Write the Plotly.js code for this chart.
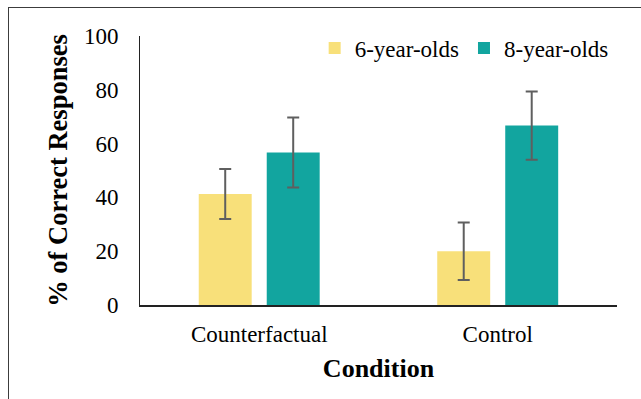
<!DOCTYPE html>
<html>
<head>
<meta charset="utf-8">
<script src="https://cdn.plot.ly/plotly-3.0.1.min.js"></script>
<style>
html,body{margin:0;padding:0;background:#fff;overflow:hidden;}
#chart{width:641px;height:399px;position:absolute;left:0;top:0;}
#frame{position:absolute;left:8px;top:7px;width:700px;height:500px;border:1px solid #3c3c3c;pointer-events:none;box-sizing:border-box;}
</style>
</head>
<body>
<div id="chart"></div>
<div id="frame"></div>
<script>
const categories = ["Counterfactual", "Control"];
const seriesNames = ["6-year-olds", "8-year-olds"];
const values6 = [41.3, 20.0];
const errors6 = [9.3, 10.7];
const values8 = [56.7, 66.7];
const errors8 = [13.0, 12.7];
const yTicks = [0, 20, 40, 60, 80, 100];

const font = "Times New Roman, Liberation Serif, DejaVu Serif, serif";
const errStyle = {type: "data", visible: true, color: "#5f5f5f", thickness: 2, width: 6};

const traces = [
  {type: "bar", name: seriesNames[0], x: categories, y: values6,
   width: 0.222, offset: -0.2537,
   error_y: Object.assign({array: errors6}, errStyle),
   marker: {color: "#F8E07A"}},
  {type: "bar", name: seriesNames[1], x: categories, y: values8,
   width: 0.222, offset: 0.0314,
   error_y: Object.assign({array: errors8}, errStyle),
   marker: {color: "#12A59F"}}
];

const layout = {
  width: 641, height: 399,
  margin: {l: 140, r: 24, t: 36, b: 94},
  paper_bgcolor: "#fff", plot_bgcolor: "#fff",
  font: {family: font, size: 23, color: "#000"},
  barmode: "overlay",
  showlegend: true,
  legend: {orientation: "h", x: 0.993, xanchor: "right", y: 0.955, yanchor: "middle",
           font: {family: font, size: 23, color: "#000", weight: "normal"}, bgcolor: "rgba(0,0,0,0)"},
  xaxis: {
    showline: true, linecolor: "#222", linewidth: 1.5,
    ticks: "", showgrid: false, zeroline: false,
    tickfont: {family: font, size: 23, color: "#000", weight: "normal"}, ticklabelstandoff: 8,
    title: {text: "Condition", font: {family: font, size: 26, weight: "bold", color: "#000"}, standoff: 12}
  },
  yaxis: {
    range: [0, 100], tickvals: yTicks, ticktext: yTicks.map(String),
    showline: true, linecolor: "#222", linewidth: 1,
    ticks: "", showgrid: false, zeroline: false,
    tickfont: {family: font, size: 23, color: "#000", weight: "normal"}, ticklabelstandoff: 16,
    title: {text: "% of Correct Responses", font: {family: font, size: 26.5, weight: "bold", color: "#000"}, standoff: 8}
  }
};

Plotly.newPlot("chart", traces, layout, {displayModeBar: false, staticPlot: true});
</script>
</body>
</html>
